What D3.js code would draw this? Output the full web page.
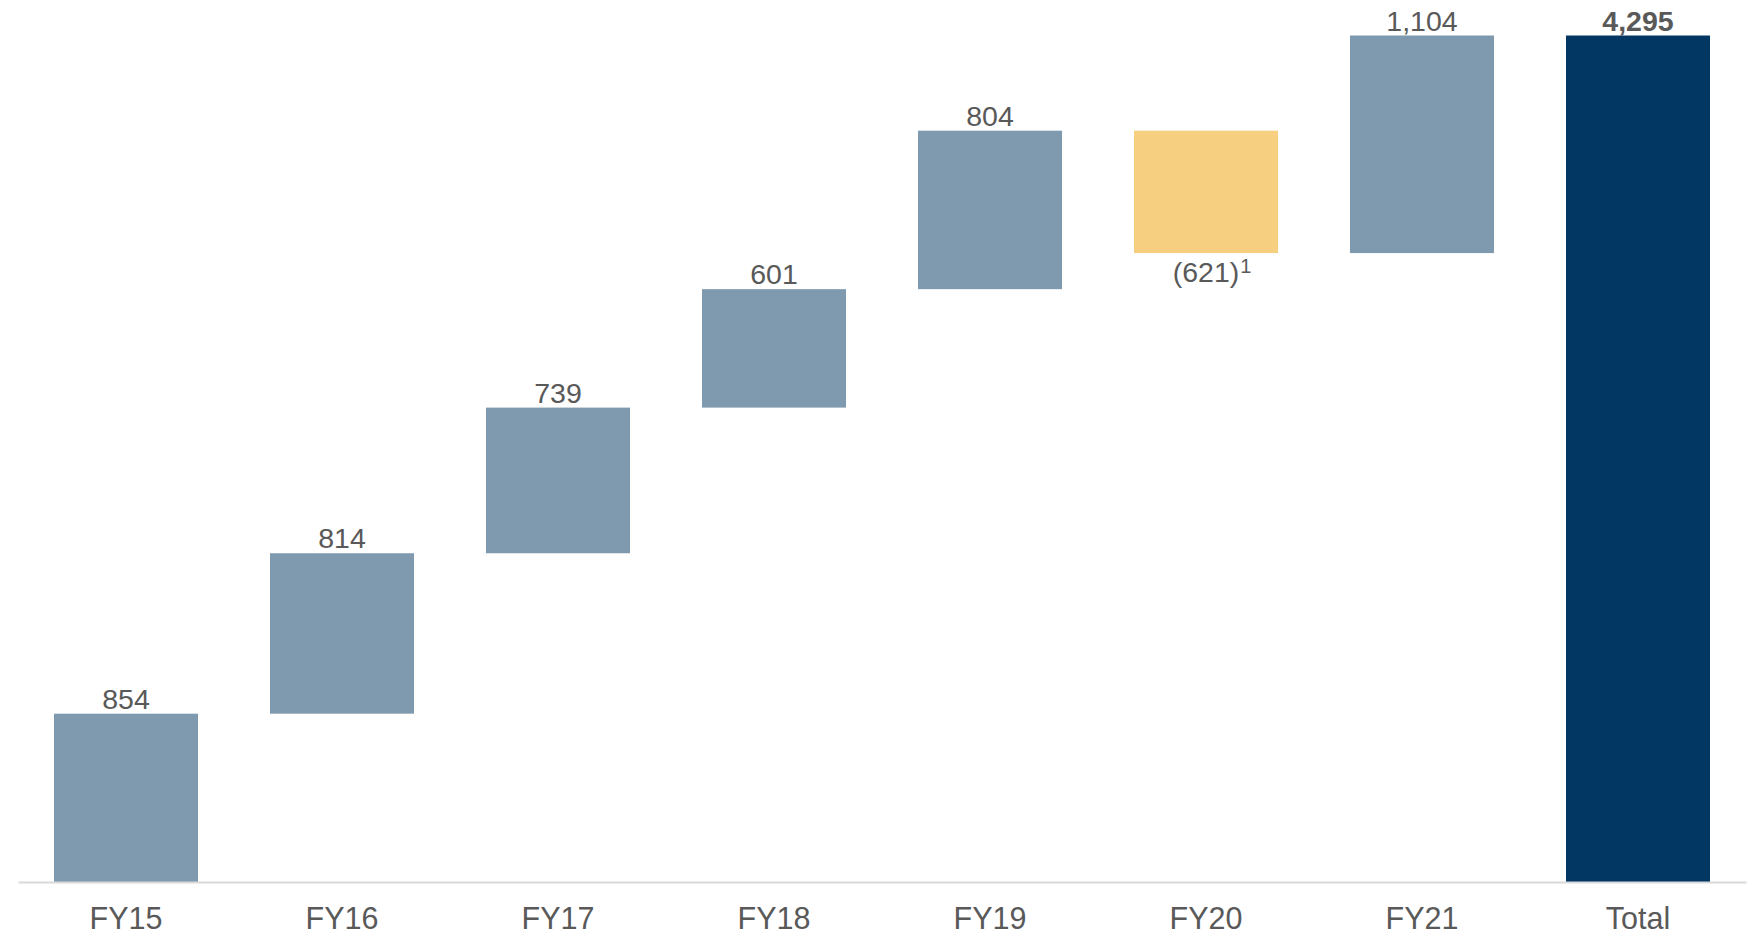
<!DOCTYPE html>
<html>
<head>
<meta charset="utf-8">
<script src="https://cdn.jsdelivr.net/npm/d3@7"></script>
<style>
  html, body { margin: 0; padding: 0; background: #ffffff; }
  svg { display: block; font-family: "Liberation Sans", Arial, sans-serif; }
</style>
</head>
<body>
<svg id="chart" width="1752" height="935"></svg>
<script>
// ---- data ----
const categories = ["FY15", "FY16", "FY17", "FY18", "FY19", "FY20", "FY21", "Total"];
const deltas = [854, 814, 739, 601, 804, -621, 1104];
const total = 4295;
const valueLabels = ["854", "814", "739", "601", "804", "(621)", "1,104", "4,295"];
const footnoteMarks = ["", "", "", "", "", "1", "", ""];

// ---- build waterfall rows ----
let run = 0;
const rows = deltas.map((d, i) => {
  const start = run;
  run += d;
  return { cat: categories[i], y0: Math.min(start, run), y1: Math.max(start, run), neg: d < 0, total: false, label: valueLabels[i], mark: footnoteMarks[i] };
});
rows.push({ cat: categories[7], y0: 0, y1: total, neg: false, total: true, label: valueLabels[7], mark: footnoteMarks[7] });

const svg = d3.select("#chart");
const x = d3.scaleBand().domain(categories).range([18, 1746]).paddingInner(1/3).paddingOuter(1/6);
const y = d3.scaleLinear().domain([0, total]).range([882, 35.5]);

const colorUp = "#7f99af", colorDown = "#f7cf80", colorTotal = "#023763";
const textColor = "#595959";

// bars
svg.append("g").selectAll("rect").data(rows).join("rect")
  .attr("x", d => x(d.cat))
  .attr("width", x.bandwidth())
  .attr("y", d => y(d.y1))
  .attr("height", d => y(d.y0) - y(d.y1))
  .attr("fill", d => d.total ? colorTotal : (d.neg ? colorDown : colorUp));

// baseline axis
const axis = svg.append("g").attr("transform", `translate(0,${y(0)})`)
  .call(d3.axisBottom(x).tickSize(0).tickPadding(0));
axis.select(".domain").attr("stroke", "#d9d9d9").attr("stroke-width", 2);
axis.selectAll(".tick text")
  .attr("font-size", 30.5)
  .attr("fill", textColor)
  .attr("font-family", "Liberation Sans, Arial, sans-serif")
  .attr("dy", null)
  .attr("y", 47);

// value labels
const lab = svg.append("g");
rows.forEach(d => {
  const cx = x(d.cat) + x.bandwidth() / 2;
  const t = lab.append("text")
    .attr("x", cx)
    .attr("y", d.neg ? y(d.y0) + 29 : y(d.y1) - 5)
    .attr("text-anchor", "middle")
    .attr("font-size", 28.5)
    .attr("font-weight", d.total ? "bold" : "normal")
    .attr("fill", textColor)
    .text(d.label);
  if (d.mark) {
    const w = t.node().getComputedTextLength();
    lab.append("text")
      .attr("x", cx + w / 2 + 1)
      .attr("y", y(d.y0) + 20)
      .attr("font-size", 20)
      .attr("fill", textColor)
      .text(d.mark);
  }
});
</script>
</body>
</html>
